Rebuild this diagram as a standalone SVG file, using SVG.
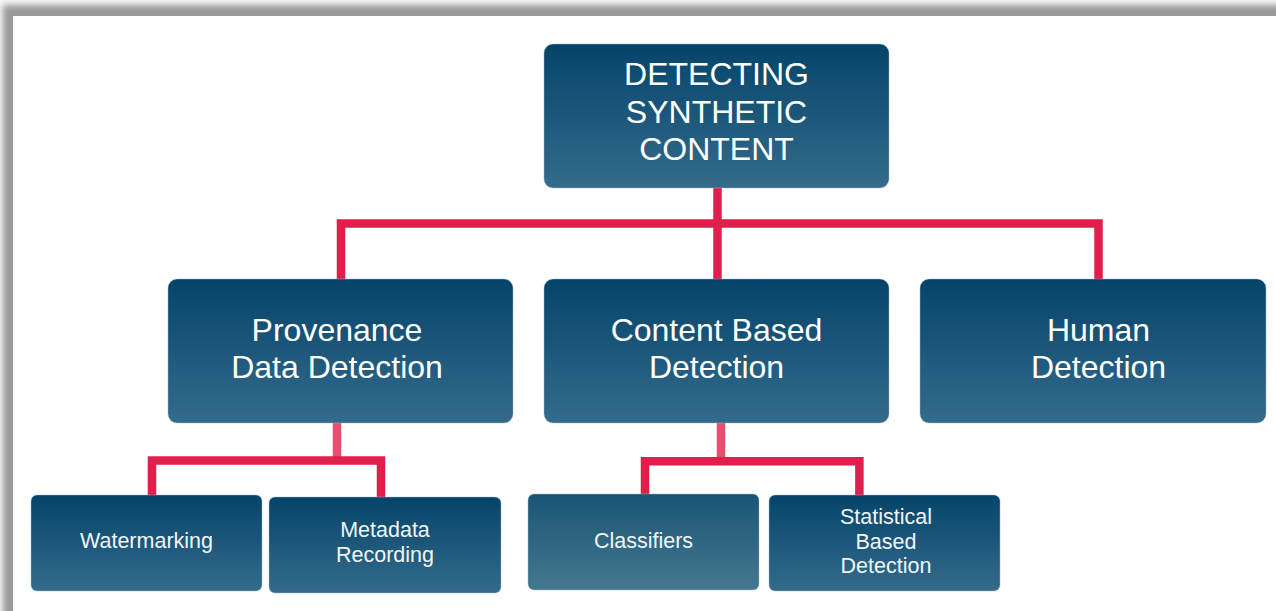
<svg xmlns="http://www.w3.org/2000/svg" width="1276" height="611" viewBox="0 0 1276 611">
  <defs>
    <linearGradient id="boxGrad" x1="0" y1="0" x2="0" y2="1">
      <stop offset="0" stop-color="#05446a"/>
      <stop offset="1" stop-color="#346b8b"/>
    </linearGradient>
    <linearGradient id="boxGradLight" x1="0" y1="0" x2="0" y2="1">
      <stop offset="0" stop-color="#1a5475"/>
      <stop offset="1" stop-color="#44788f"/>
    </linearGradient>
    <filter id="blur" x="-0.05" y="-0.05" width="1.1" height="1.1">
      <feGaussianBlur stdDeviation="3"/>
    </filter>
    <style>
      .box { fill: url(#boxGrad); stroke: #9fb6c6; stroke-width: 0.8; stroke-opacity: 0.6; }
      .boxL { fill: url(#boxGradLight); stroke: #9fb6c6; stroke-width: 0.8; stroke-opacity: 0.6; }
      .t1 { font-family: "Liberation Sans", Arial, sans-serif; font-size: 32px; fill: #ffffff; text-anchor: middle; }
      .t2 { font-family: "Liberation Sans", Arial, sans-serif; font-size: 21.5px; fill: #f2f5f8; text-anchor: middle; }
      .wire { fill: none; stroke: #df1f4c; stroke-width: 8.5; stroke-linejoin: miter; stroke-linecap: butt; }
      .stub { fill: none; stroke: #e8506f; stroke-width: 8.5; }
    </style>
  </defs>

  <!-- page background with shadow -->
  <rect x="0" y="0" width="1276" height="611" fill="#f6f6f6"/>
  <rect x="3" y="5" width="1300" height="640" fill="#9a9a9a" filter="url(#blur)"/>
  <rect x="13" y="16" width="1263" height="595" fill="#ffffff"/>

  <g id="connectors">
    <path class="wire" d="M341 279 V223.5 H1098.5 V279"/>
    <path class="wire" d="M717.5 188 V279"/>
    <path class="stub" d="M337 423 V457"/>
    <path class="wire" d="M152 495 V460.5 H381 V497"/>
    <path class="stub" d="M721 423 V457"/>
    <path class="wire" d="M645 494 V461.3 H859.4 V495"/>
  </g>

  <g id="node-root">
    <rect class="box" x="544" y="44" width="345" height="144" rx="9"/>
    <text class="t1" x="716.5" y="85">DETECTING</text>
    <text class="t1" x="716.5" y="123">SYNTHETIC</text>
    <text class="t1" x="716.5" y="160">CONTENT</text>
  </g>

  <g id="node-provenance">
    <rect class="box" x="168" y="279" width="345" height="144" rx="9"/>
    <text class="t1" x="337" y="341">Provenance</text>
    <text class="t1" x="337" y="378">Data Detection</text>
  </g>

  <g id="node-content">
    <rect class="box" x="544" y="279" width="345" height="144" rx="9"/>
    <text class="t1" x="716.5" y="341">Content Based</text>
    <text class="t1" x="716.5" y="378">Detection</text>
  </g>

  <g id="node-human">
    <rect class="box" x="920" y="279" width="346" height="144" rx="9"/>
    <text class="t1" x="1098.5" y="341">Human</text>
    <text class="t1" x="1098.5" y="378">Detection</text>
  </g>

  <g id="node-watermarking">
    <rect class="box" x="31" y="495" width="231" height="96" rx="6"/>
    <text class="t2" x="146.5" y="548">Watermarking</text>
  </g>

  <g id="node-metadata">
    <rect class="box" x="269" y="497" width="232" height="96" rx="6"/>
    <text class="t2" x="385" y="537">Metadata</text>
    <text class="t2" x="385" y="562">Recording</text>
  </g>

  <g id="node-classifiers">
    <rect class="boxL" x="528" y="494" width="231" height="96" rx="6"/>
    <text class="t2" x="643.5" y="548">Classifiers</text>
  </g>

  <g id="node-statistical">
    <rect class="box" x="769" y="495" width="231" height="96" rx="6"/>
    <text class="t2" x="886" y="524">Statistical</text>
    <text class="t2" x="886" y="549">Based</text>
    <text class="t2" x="886" y="573">Detection</text>
  </g>
</svg>
